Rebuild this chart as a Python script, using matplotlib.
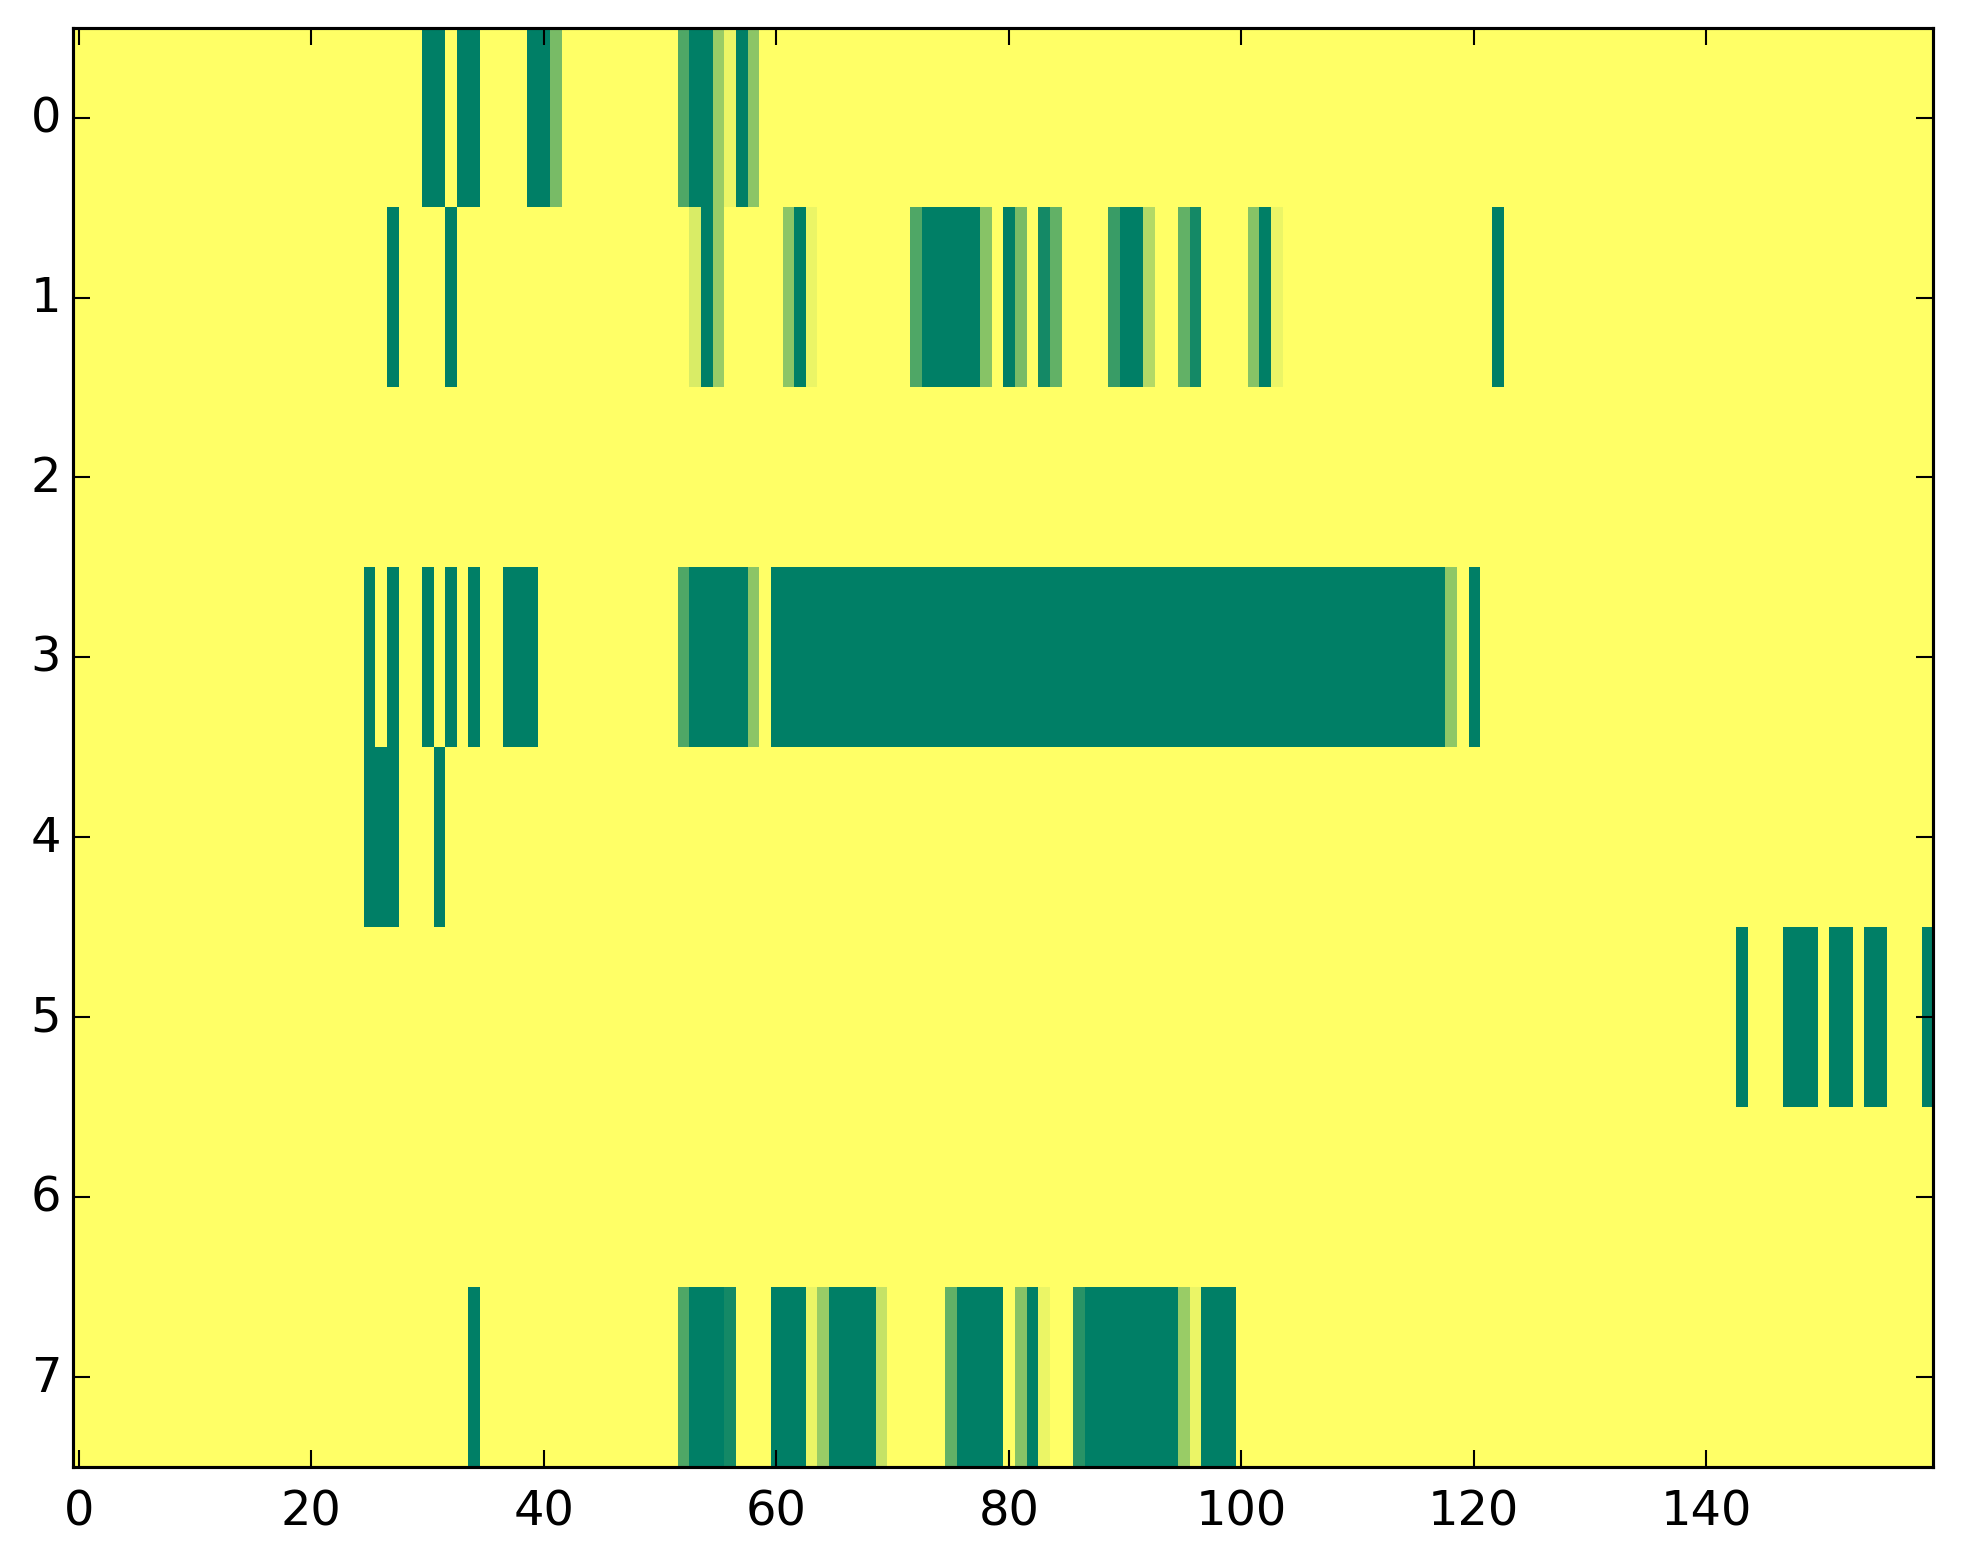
import numpy as np
import matplotlib
matplotlib.use("Agg")
import matplotlib.pyplot as plt

n_rows = 8
n_cols = 160

# runs: (first col, last col, value)
row0 = [(30, 31, 1.0), (33, 34, 1.0), (39, 40, 1.0), (41, 41, 0.53),
        (52, 52, 0.69), (53, 54, 1.0), (55, 55, 0.40), (56, 56, 0.08),
        (57, 57, 1.0), (58, 58, 0.45)]
row1 = [(27, 27, 1.0), (32, 32, 1.0), (53, 53, 0.15), (54, 54, 1.0),
        (55, 55, 0.40), (61, 61, 0.45), (62, 62, 1.0), (63, 63, 0.08),
        (72, 72, 0.69), (73, 77, 1.0), (78, 78, 0.47), (80, 80, 1.0),
        (81, 81, 0.53), (83, 83, 0.92), (84, 84, 0.61), (89, 89, 0.77),
        (90, 91, 1.0), (92, 92, 0.30), (95, 95, 0.61), (96, 96, 0.92),
        (101, 101, 0.47), (102, 102, 1.0), (103, 103, 0.08), (122, 122, 1.0)]
row2 = []
row3 = [(25, 25, 1.0), (27, 27, 1.0), (30, 30, 1.0), (32, 32, 1.0),
        (34, 34, 1.0), (37, 39, 1.0), (52, 52, 0.69), (53, 57, 1.0),
        (58, 58, 0.45), (60, 117, 1.0), (118, 118, 0.44), (120, 120, 1.0)]
row4 = [(25, 27, 1.0), (31, 31, 1.0)]
row5 = [(143, 143, 1.0), (147, 149, 1.0), (151, 152, 1.0), (154, 155, 1.0),
        (159, 159, 1.0)]
row6 = []
row7 = [(34, 34, 1.0), (52, 52, 0.69), (53, 55, 1.0), (56, 56, 0.92),
        (60, 62, 1.0), (63, 63, 0.08), (64, 64, 0.40), (65, 68, 1.0),
        (69, 69, 0.23), (75, 75, 0.61), (76, 79, 1.0), (81, 81, 0.47),
        (82, 82, 1.0), (83, 83, 0.08), (86, 86, 0.84), (87, 94, 1.0),
        (95, 95, 0.40), (96, 96, 0.08), (97, 99, 1.0)]

rows = [row0, row1, row2, row3, row4, row5, row6, row7]

grid = np.zeros((n_rows, n_cols))
for r, runs in enumerate(rows):
    for a, b, v in runs:
        grid[r, a:b + 1] = v

plt.style.use("classic")
plt.rcParams["font.size"] = 11.5

W, H, DPI = 1963, 1564, 300
fig = plt.figure(figsize=(W / DPI, H / DPI), dpi=DPI)
fig.patch.set_facecolor("white")
ax = fig.add_axes([72.9 / W, 1 - 1468 / H, (1933 - 72.9) / W, (1468 - 28.7) / H])

ax.imshow(grid, cmap="summer_r", vmin=0, vmax=1, aspect="auto",
          interpolation="nearest")

ax.set_xticks([0, 20, 40, 60, 80, 100, 120, 140])
ax.set_yticks(range(8))
ax.tick_params(direction="in", length=4, width=0.5, top=True, right=True)
ax.tick_params(axis="x", pad=5)
ax.tick_params(axis="y", pad=2.8)
for s in ax.spines.values():
    s.set_linewidth(0.75)

fig.savefig("out.png", dpi=DPI, facecolor="white")
